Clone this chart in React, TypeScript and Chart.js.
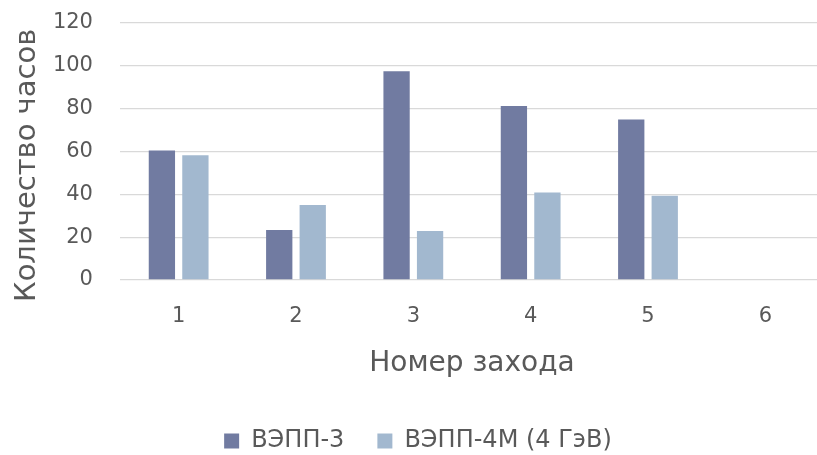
import React, { useEffect, useRef } from "react";
import { Chart, registerables } from "chart.js";

Chart.register(...registerables);

// Run numbers (x axis) and hours per run for each accelerator
const categories = ["1", "2", "3", "4", "5", "6"];
const vepp3Hours: (number | null)[] = [60.5, 23.3, 97.5, 81.3, 75, null];
const vepp4mHours: (number | null)[] = [58.2, 35, 22.9, 40.9, 39.3, null];
const seriesNames = ["ВЭПП-3", "ВЭПП-4М (4 ГэВ)"];
const yTicks = { min: 0, max: 120, step: 20 };

const FONT = "'DejaVu Sans', sans-serif";
const TEXT = "#595959";

export default function App() {
  const canvasRef = useRef<HTMLCanvasElement | null>(null);

  useEffect(() => {
    const canvas = canvasRef.current;
    if (!canvas) return;
    const chart = new Chart(canvas, {
      type: "bar",
      data: {
        labels: categories,
        datasets: [
          {
            label: seriesNames[0],
            data: vepp3Hours,
            backgroundColor: "#717BA1",
            borderWidth: 0,
          },
          {
            label: seriesNames[1],
            data: vepp4mHours,
            backgroundColor: "#A2B8CF",
            borderWidth: 0,
          },
        ],
      },
      options: {
        responsive: false,
        animation: false,
        datasets: {
          bar: { categoryPercentage: 0.571, barPercentage: 0.785 },
        },
        layout: { padding: { top: 23, right: 6, bottom: 7, left: 12 } },
        plugins: {
          tooltip: { enabled: false },
          legend: {
            position: "bottom",
            labels: {
              boxWidth: 15,
              boxHeight: 15,
              padding: 33,
              color: TEXT,
              font: { family: FONT, size: 24 },
            },
          },
        },
        scales: {
          x: {
            grid: { display: false, drawTicks: false },
            border: { display: false },
            ticks: {
              color: TEXT,
              padding: 24,
              font: { family: FONT, size: 21 },
            },
            title: {
              display: true,
              text: "Номер захода",
              color: TEXT,
              font: { family: FONT, size: 28 },
              padding: { top: -6, bottom: 15.2 },
            },
          },
          y: {
            min: yTicks.min,
            max: yTicks.max,
            // invisible tick marks keep the labels clear of the plot area
            grid: {
              color: "#d9d9d9",
              lineWidth: 1.3,
              drawTicks: true,
              tickLength: 27,
              tickColor: "rgba(0,0,0,0)",
            },
            border: { display: false },
            ticks: {
              stepSize: yTicks.step,
              color: TEXT,
              padding: 0,
              font: { family: FONT, size: 21 },
            },
            title: {
              display: true,
              // trailing spaces nudge the rotated title toward the bottom of the axis
              text: "Количество часов   ",
              color: TEXT,
              font: { family: FONT, size: 29 },
              padding: { top: -2, bottom: 8.1 },
            },
          },
        },
      },
    });
    return () => chart.destroy();
  }, []);

  return (
    <div
      style={{
        position: "fixed",
        left: 0,
        top: 0,
        width: 817,
        height: 455,
        overflow: "hidden",
        background: "#ffffff",
      }}
    >
      <canvas ref={canvasRef} width={830} height={470} style={{ display: "block" }} />
    </div>
  );
}
